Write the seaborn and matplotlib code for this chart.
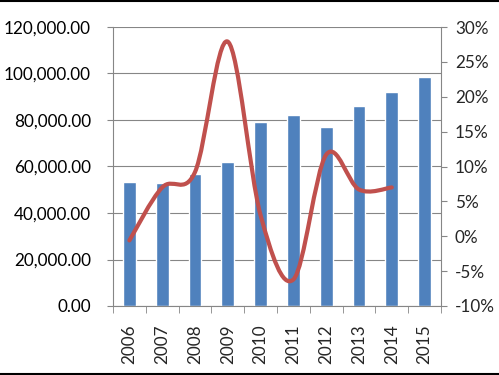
import matplotlib
matplotlib.use("Agg")
import matplotlib.pyplot as plt
import matplotlib.ticker as mticker
from matplotlib.path import Path
from matplotlib.patches import PathPatch
from matplotlib.lines import Line2D
import seaborn as sns
import pandas as pd

# Data
years = ["2006", "2007", "2008", "2009", "2010", "2011", "2012", "2013", "2014", "2015"]
values = [53300, 52900, 56600, 61900, 79300, 82300, 77100, 86000, 91900, 98400]
growth = [-0.006, 0.070, 0.092, 0.279, 0.030, -0.062, 0.117, 0.067, 0.070]

bar_color = "#4F81BD"
line_color = "#C0504D"
grid_color = "#868686"

sns.set_style("white")
plt.rcParams["font.family"] = ["Lato", "DejaVu Sans"]

df = pd.DataFrame({"year": years, "value": values})

fig = plt.figure(figsize=(4.99, 3.75), dpi=100)
ax = fig.add_axes([113 / 499, 1 - 306 / 375, 328 / 499, 279 / 375])

sns.barplot(data=df, x="year", y="value", color=bar_color, width=0.39,
            saturation=1, ax=ax, zorder=2)
ax.set_xlim(-0.5, len(years) - 0.5)
ax.set_ylim(0, 120000)
ax.set_yticks(range(0, 120001, 20000))
ax.yaxis.set_major_formatter(mticker.FuncFormatter(lambda v, p: f"{v:,.2f}"))
ax.set_xlabel("")
ax.set_ylabel("")
ax.grid(axis="y", color=grid_color, linewidth=0.8, zorder=0)
ax.set_axisbelow(True)

for s in ["left", "bottom"]:
    ax.spines[s].set_color(grid_color)
    ax.spines[s].set_linewidth(0.8)
ax.spines["top"].set_visible(False)
ax.spines["right"].set_visible(False)

ax.tick_params(axis="y", left=True, length=4, color=grid_color, labelsize=12.3,
               labelcolor="black", pad=12)
ax.tick_params(axis="x", bottom=False, labelsize=12.3, labelrotation=90, pad=10)
ax.set_xticks([i - 0.5 for i in range(len(years) + 1)], minor=True)
ax.tick_params(axis="x", which="minor", bottom=True, length=5, color=grid_color)

# Growth line on secondary axis, smoothed like Excel
ax2 = ax.twinx()
ax2.set_ylim(-0.10, 0.30)
ax2.set_yticks([-0.10 + 0.05 * i for i in range(9)])
ax2.yaxis.set_major_formatter(mticker.FuncFormatter(lambda v, p: f"{round(v * 100):d}%"))
ax2.tick_params(axis="y", right=True, length=4, color=grid_color, labelsize=12.3, pad=6)
for s in ["left", "top", "bottom"]:
    ax2.spines[s].set_visible(False)
ax2.spines["right"].set_color(grid_color)
ax2.spines["right"].set_linewidth(0.8)

pts = list(zip(range(len(growth)), growth))
verts = [pts[0]]
codes = [Path.MOVETO]
n = len(pts)
for i in range(n - 1):
    p0 = pts[i - 1] if i > 0 else pts[i]
    p1 = pts[i]
    p2 = pts[i + 1]
    p3 = pts[i + 2] if i + 2 < n else pts[i + 1]
    c1 = (p1[0] + (p2[0] - p0[0]) / 6, p1[1] + (p2[1] - p0[1]) / 6)
    c2 = (p2[0] - (p3[0] - p1[0]) / 6, p2[1] - (p3[1] - p1[1]) / 6)
    verts += [c1, c2, p2]
    codes += [Path.CURVE4] * 3
patch = PathPatch(Path(verts, codes), facecolor="none", edgecolor=line_color,
                  linewidth=3, capstyle="round", joinstyle="round")
ax2.add_patch(patch)

# Black rules at top and bottom of the image
fig.add_artist(Line2D([0, 1], [0.998, 0.998], color="black", linewidth=1.5,
                      transform=fig.transFigure))
fig.add_artist(Line2D([0, 1], [0.004, 0.004], color="black", linewidth=1.5,
                      transform=fig.transFigure))

fig.savefig("out.png", dpi=100)
